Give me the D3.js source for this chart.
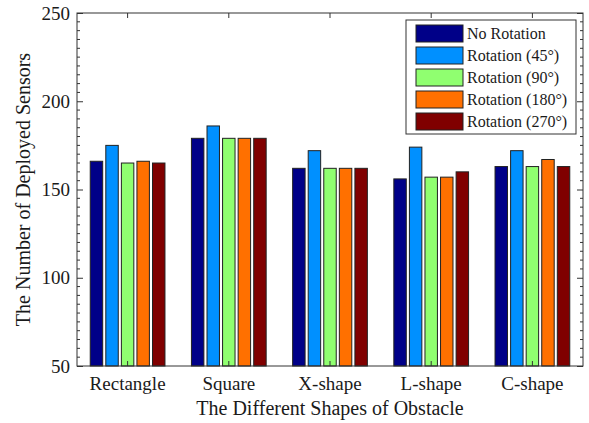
<!DOCTYPE html>
<html>
<head>
<meta charset="utf-8">
<script src="https://cdn.jsdelivr.net/npm/d3@7"></script>
<style>
  html, body { margin: 0; padding: 0; background: #fff; }
  svg { display: block; }
  text { font-family: "Liberation Serif", "Times New Roman", serif; fill: #1a1a1a; }
</style>
</head>
<body>
<svg id="chart" width="589" height="423"></svg>
<script>
// Obstacle shapes on the x axis
const shapes = ["Rectangle", "Square", "X-shape", "L-shape", "C-shape"];
// Rotation settings (one bar per shape each)
const rotations = ["No Rotation", "Rotation (45°)", "Rotation (90°)", "Rotation (180°)", "Rotation (270°)"];
// Number of deployed sensors, one array per rotation, ordered as shapes
const noRotation = [166, 179, 162, 156, 163];
const rot45      = [175, 186, 172, 174, 172];
const rot90      = [165, 179, 162, 157, 163];
const rot180     = [166, 179, 162, 157, 167];
const rot270     = [165, 179, 162, 160, 163];
const seriesValues = [noRotation, rot45, rot90, rot180, rot270];
const seriesColors = ["#000088", "#0090ff", "#90ff70", "#ff7000", "#800000"];
const yTicks = [50, 100, 150, 200, 250];

const svg = d3.select("#chart");
const m = { left: 77, top: 13, right: 6, bottom: 57 };
const W = 589, H = 423;
const x0 = m.left, x1 = W - m.right, y0 = H - m.bottom, y1 = m.top;

const y = d3.scaleLinear().domain([50, 250]).range([y0, y1]);
const xg = d3.scaleBand().domain(shapes).range([x0, x1])
  .paddingInner(0.2308).paddingOuter(0.1154);
const xs = d3.scaleBand().domain(d3.range(rotations.length)).range([0, xg.bandwidth()])
  .paddingInner(0.2).paddingOuter(0.1);

const axisColor = "#333";

// Bars
const groups = svg.append("g").selectAll("g").data(shapes).join("g")
  .attr("transform", d => `translate(${xg(d)},0)`);
groups.selectAll("rect")
  .data((d, i) => seriesValues.map((s, k) => ({ k, v: s[i] })))
  .join("rect")
  .attr("x", d => xs(d.k))
  .attr("width", xs.bandwidth())
  .attr("y", d => y(d.v))
  .attr("height", d => y(50) - y(d.v))
  .attr("fill", d => seriesColors[d.k])
  .attr("stroke", "#222")
  .attr("stroke-width", 1);

// Frame with inward ticks on all four sides
svg.append("rect")
  .attr("x", x0).attr("y", y1).attr("width", x1 - x0).attr("height", y0 - y1)
  .attr("fill", "none").attr("stroke", axisColor).attr("stroke-width", 1);

const leftAxis = d3.axisLeft(y).tickValues(yTicks).tickSize(-6).tickPadding(7).tickFormat(d3.format("d"));
const gl = svg.append("g").attr("transform", `translate(${x0},0)`).call(leftAxis);
gl.select(".domain").remove();
gl.selectAll("line").attr("stroke", axisColor);
gl.selectAll("text").attr("font-size", 19).attr("font-family", "Liberation Serif").attr("fill", "#1a1a1a");

const rightAxis = d3.axisRight(y).tickValues(yTicks).tickSize(-6).tickFormat("");
const gr = svg.append("g").attr("transform", `translate(${x1},0)`).call(rightAxis);
gr.select(".domain").remove();
gr.selectAll("line").attr("stroke", axisColor);

// Minor ticks every 5 sensors
const minor = d3.range(55, 250, 5).filter(v => v % 50 !== 0);
svg.append("g").selectAll("line").data(minor).join("line")
  .attr("x1", x0).attr("x2", x0 + 3).attr("y1", d => y(d)).attr("y2", d => y(d))
  .attr("stroke", axisColor);
svg.append("g").selectAll("line").data(minor).join("line")
  .attr("x1", x1).attr("x2", x1 - 3).attr("y1", d => y(d)).attr("y2", d => y(d))
  .attr("stroke", axisColor);

// Category axis at the bottom, mirrored ticks on top
const bottomAxis = d3.axisBottom(xg).tickSize(-5).tickPadding(11);
const gb = svg.append("g").attr("transform", `translate(0,${y0})`).call(bottomAxis);
gb.select(".domain").remove();
gb.selectAll("line").attr("stroke", axisColor);
gb.selectAll("text").attr("font-size", 19).attr("font-family", "Liberation Serif").attr("fill", "#1a1a1a");

const topAxis = d3.axisTop(xg).tickSize(-5).tickFormat("");
const gt = svg.append("g").attr("transform", `translate(0,${y1})`).call(topAxis);
gt.select(".domain").remove();
gt.selectAll("line").attr("stroke", axisColor);

// Axis titles
svg.append("text")
  .attr("x", (x0 + x1) / 2).attr("y", 415)
  .attr("text-anchor", "middle").attr("font-size", 20)
  .text("The Different Shapes of Obstacle");
svg.append("text")
  .attr("transform", `translate(30,${(y0 + y1) / 2}) rotate(-90)`)
  .attr("text-anchor", "middle").attr("font-size", 20)
  .text("The Number of Deployed Sensors");

// Legend
const lg = svg.append("g");
lg.append("rect")
  .attr("x", 406).attr("y", 20).attr("width", 170).attr("height", 114)
  .attr("fill", "#fff").attr("stroke", axisColor).attr("stroke-width", 1);
const rows = lg.selectAll("g").data(rotations).join("g")
  .attr("transform", (d, i) => `translate(0,${25 + i * 22})`);
rows.append("rect")
  .attr("x", 416).attr("y", 0).attr("width", 47).attr("height", 17)
  .attr("fill", (d, i) => seriesColors[i]).attr("stroke", "#222");
rows.append("text")
  .attr("x", 467).attr("y", 14).attr("font-size", 16)
  .text(d => d);
</script>
</body>
</html>
